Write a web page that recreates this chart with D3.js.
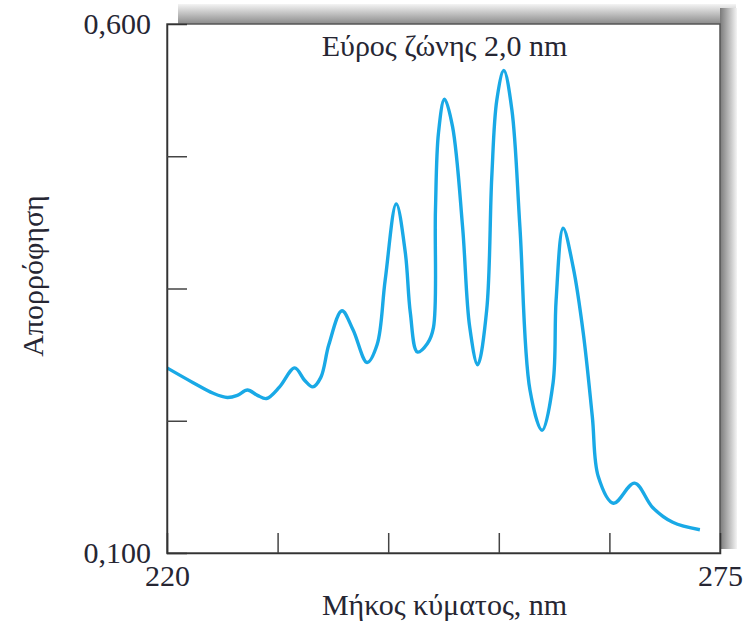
<!DOCTYPE html>
<html>
<head>
<meta charset="utf-8">
<script src="https://cdn.jsdelivr.net/npm/d3@7"></script>
<style>
  body { margin: 0; background: #fff; }
  text { font-family: "Liberation Serif", "DejaVu Serif", serif; fill: #262633; }
</style>
</head>
<body>
<div id="chart"></div>
<script>
// spectrum: wavelength (nm) and absorbance
var wavelengths = [220.0, 222.6, 224.6, 226.0, 227.0, 228.0, 229.0, 229.9, 231.2, 232.7,
  233.7, 234.5, 235.3, 236.1, 237.4, 238.5, 239.9, 240.9, 241.7, 242.8,
  243.7, 244.2, 244.9, 245.9, 246.5, 246.7, 247.0, 247.6, 248.4, 249.4,
  250.1, 250.9, 251.8, 252.3, 252.8, 253.5, 254.3, 255.1, 256.1, 257.3,
  258.4, 258.7, 259.4, 260.4, 261.4, 262.3, 262.9, 264.4, 266.5, 268.3,
  270.3, 273.0];
var absorbance = [0.275, 0.261, 0.251, 0.247, 0.249, 0.254, 0.249, 0.246, 0.257, 0.275,
  0.263, 0.257, 0.266, 0.297, 0.329, 0.311, 0.280, 0.297, 0.358, 0.430,
  0.384, 0.327, 0.290, 0.298, 0.313, 0.424, 0.497, 0.529, 0.503, 0.408,
  0.314, 0.278, 0.330, 0.455, 0.528, 0.556, 0.519, 0.408, 0.254, 0.216,
  0.261, 0.339, 0.407, 0.370, 0.308, 0.229, 0.172, 0.147, 0.166, 0.143,
  0.129, 0.122];

var xTicks = [220, 231, 242, 253, 264, 275];
var xTickLabels = { 220: "220", 275: "275" };
var yTicks = [0.1, 0.225, 0.35, 0.475, 0.6];
var yTickLabels = { 0.1: "0,100", 0.6: "0,600" };

var title = "Εύρος ζώνης 2,0 nm";
var xTitle = "Μήκος κύματος, nm";
var yTitle = "Απορρόφηση";

var fontSize = "30px";

// size and plot box
var W = 750, H = 634;
var margin = { top: 24, right: 30, bottom: 81, left: 167 },
  width = W - margin.left - margin.right,
  height = H - margin.top - margin.bottom;

var svg = d3.select("#chart").append("svg")
  .attr("width", W)
  .attr("height", H);

// gradients for the grey drop shadow above and right of the box
var defs = svg.append("defs");
var gTop = defs.append("linearGradient").attr("id", "shTop")
  .attr("x1", 0).attr("y1", 0).attr("x2", 0).attr("y2", 1);
gTop.append("stop").attr("offset", "0%").attr("stop-color", "#f4f4f4");
gTop.append("stop").attr("offset", "100%").attr("stop-color", "#8a8a8a");
var gRight = defs.append("linearGradient").attr("id", "shRight")
  .attr("x1", 0).attr("y1", 0).attr("x2", 1).attr("y2", 0);
gRight.append("stop").attr("offset", "0%").attr("stop-color", "#7a7a7a");
gRight.append("stop").attr("offset", "100%").attr("stop-color", "#f4f4f4");

svg.append("rect")
  .attr("x", 178).attr("y", 4)
  .attr("width", margin.left + width - 178 + 16).attr("height", margin.top - 4)
  .attr("fill", "url(#shTop)");
svg.append("rect")
  .attr("x", margin.left + width).attr("y", 8)
  .attr("width", 17).attr("height", margin.top + height - 12)
  .attr("fill", "url(#shRight)");

var g = svg.append("g")
  .attr("transform", "translate(" + margin.left + "," + margin.top + ")");

var x = d3.scaleLinear().domain([220, 275]).range([0, width]);
var y = d3.scaleLinear().domain([0.1, 0.6]).range([height, 0]);

// frame of the box
g.append("rect")
  .attr("width", width).attr("height", height)
  .attr("fill", "#fff")
  .attr("stroke", "#555")
  .attr("stroke-width", 1.5);

// the spectrum
var pts = wavelengths.map(function (d, i) { return [d, absorbance[i]]; });
var line = d3.line()
  .x(function (d) { return x(d[0]); })
  .y(function (d) { return y(d[1]); })
  .curve(d3.curveCatmullRom.alpha(0.5));

g.append("path")
  .datum(pts)
  .attr("d", line)
  .attr("fill", "none")
  .attr("stroke", "#19a9e6")
  .attr("stroke-width", 3.4)
  .attr("stroke-linejoin", "round");

// axes with inward ticks, only the end values labelled
var xAxis = g.append("g")
  .attr("transform", "translate(0," + height + ")")
  .call(d3.axisBottom(x)
    .tickValues(xTicks)
    .tickSize(-20)
    .tickPadding(12)
    .tickFormat(function (d) { return xTickLabels[d] || ""; }));

var yAxis = g.append("g")
  .call(d3.axisLeft(y)
    .tickValues(yTicks)
    .tickSize(-20)
    .tickPadding(16)
    .tickFormat(function (d) { return yTickLabels[d] || ""; }));

[xAxis, yAxis].forEach(function (a) {
  a.select(".domain").attr("stroke", "#333").attr("stroke-width", 1.5);
  a.selectAll(".tick line").attr("stroke", "#444").attr("stroke-width", 1.5);
  a.selectAll(".tick text")
    .style("font-family", "Liberation Serif, serif")
    .style("font-size", fontSize)
    .attr("fill", "#262633");
});
// hide the end tick marks that sit on the frame
xAxis.selectAll(".tick line").filter(function (d) { return d === 220 || d === 275; }).remove();
yAxis.selectAll(".tick line").filter(function (d) { return d === 0.1 || d === 0.6; }).remove();

// titles
g.append("text")
  .attr("x", x(247.6))
  .attr("y", 32)
  .attr("text-anchor", "middle")
  .style("font-size", fontSize)
  .text(title);

g.append("text")
  .attr("x", x(247.6))
  .attr("y", height + 62)
  .attr("text-anchor", "middle")
  .style("font-size", fontSize)
  .text(xTitle);

svg.append("text")
  .attr("transform", "translate(43," + 276 + ") rotate(-90)")
  .attr("text-anchor", "middle")
  .style("font-size", fontSize)
  .text(yTitle);
</script>
</body>
</html>
